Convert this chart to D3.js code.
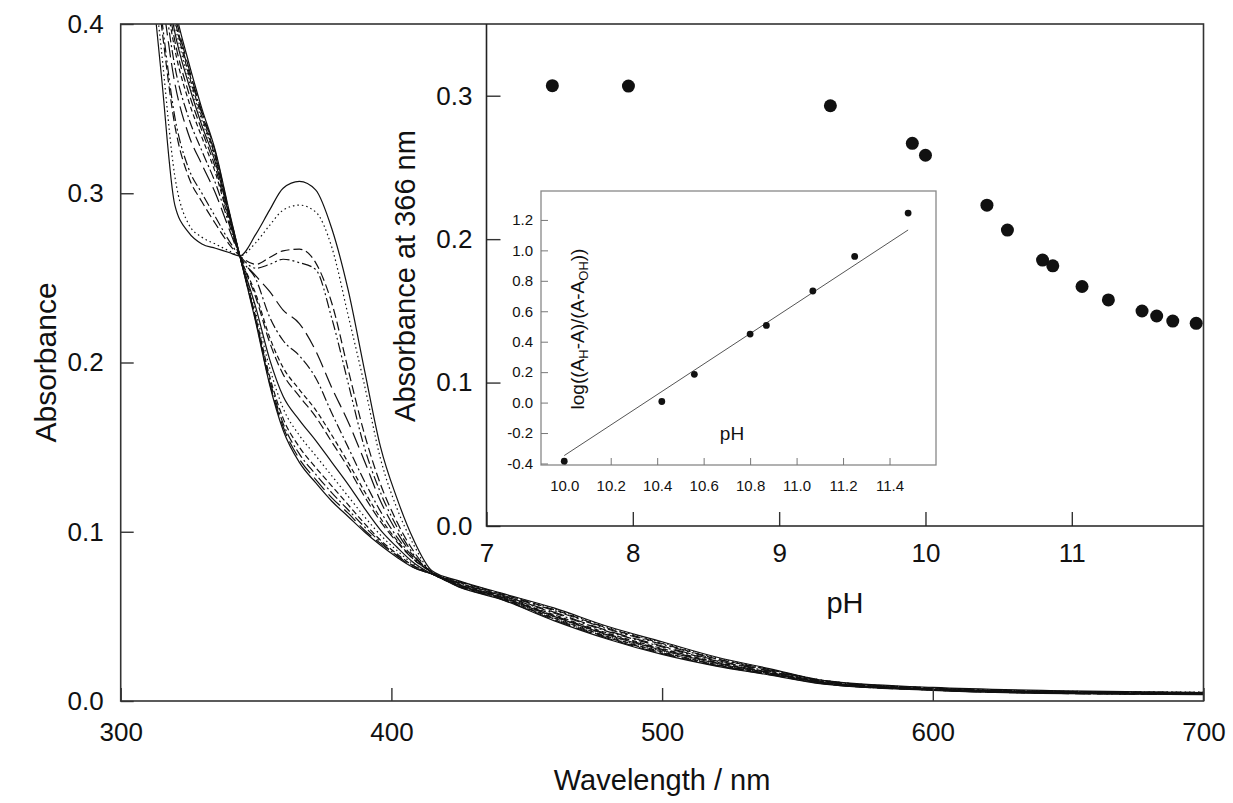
<!DOCTYPE html>
<html><head><meta charset="utf-8">
<script src="https://cdn.jsdelivr.net/npm/d3@7"></script>
<style>body{margin:0;background:#fff}</style>
</head><body><svg id="c" width="1233" height="803"></svg>
<script>
// ---------- DATA ----------
const wavelengths = [310,315,320,325,330,335,340,344,350,355,360,366,372,378,384,390,396,402,408,415,425,440,460,480,500,520,540,560,600,650,700];

const abs_pH7_45 = [.45,.37,.293,.277,.270,.2675,.265,.263,.276,.290,.303,.307,.302,.279,.243,.196,.150,.120,.096,.077,.071,.064,.055,.044,.035,.026,.019,.012,.008,.006,.005];
const abs_pH9_35 = [.46,.385,.31,.282,.274,.270,.266,.263,.271,.281,.290,.293,.289,.268,.228,.187,.143,.114,.093,.076,.0707,.0637,.0545,.0435,.0345,.0255,.0188,.0121,.0077,.0057,.0052];
const abs_pH9_91 = [.47,.40,.34,.31,.295,.282,.270,.263,.258,.262,.266,.267,.259,.235,.196,.158,.128,.106,.089,.076,.0705,.0635,.054,.043,.034,.025,.0185,.012,.0076,.0056,.0051];
const abs_pH10_00 = [.47,.405,.345,.315,.300,.286,.272,.263,.2557,.258,.261,.259,.255,.226,.188,.150,.123,.103,.087,.076,.070,.063,.0535,.0425,.0335,.0248,.0183,.0118,.0075,.0055,.005];
const abs_pH10_42 = [.48,.42,.365,.335,.317,.300,.279,.263,.251,.242,.231,.223,.207,.185,.165,.142,.118,.100,.086,.076,.0697,.0627,.0525,.0415,.0325,.0241,.0178,.0115,.0073,.0053,.0048];
const abs_pH10_56 = [.49,.43,.375,.345,.325,.306,.282,.263,.249,.227,.213,.204,.191,.170,.150,.130,.112,.097,.085,.076,.0695,.0625,.052,.041,.032,.0237,.0175,.0113,.0072,.0052,.0047];
const abs_pH10_80 = [.50,.435,.385,.355,.333,.312,.284,.263,.240,.215,.197,.184,.172,.157,.141,.124,.108,.095,.084,.076,.069,.062,.051,.040,.031,.023,.017,.011,.007,.005,.0045];
const abs_pH10_87 = [.50,.44,.39,.36,.337,.315,.285,.263,.238,.212,.193,.180,.168,.153,.138,.121,.106,.094,.084,.076,.0688,.0618,.0505,.0395,.0305,.0227,.0168,.0109,.0069,.0049,.0044];
const abs_pH11_07 = [.51,.445,.395,.365,.340,.318,.287,.263,.232,.202,.180,.166,.154,.141,.128,.114,.101,.091,.082,.075,.0685,.0615,.050,.039,.030,.0223,.0165,.0107,.0068,.0048,.0043];
const abs_pH11_25 = [.51,.45,.40,.368,.343,.320,.288,.263,.229,.197,.173,.157,.145,.133,.121,.109,.098,.089,.081,.075,.0683,.0613,.0495,.0385,.0295,.022,.0163,.0106,.0067,.0047,.0042];
const abs_pH11_48 = [.52,.45,.403,.371,.345,.321,.288,.263,.226,.192,.167,.150,.138,.127,.116,.105,.095,.087,.080,.075,.068,.061,.049,.038,.029,.0216,.016,.0104,.0066,.0046,.0041];
const abs_pH11_58 = [.52,.455,.405,.373,.347,.322,.289,.263,.225,.190,.164,.146,.134,.123,.113,.103,.094,.086,.080,.075,.0678,.0608,.0485,.0375,.0285,.0213,.0158,.0103,.0065,.0045,.004];
const abs_pH11_69 = [.52,.455,.407,.375,.348,.324,.289,.263,.224,.188,.162,.143,.131,.120,.111,.101,.093,.086,.079,.075,.0675,.0605,.048,.037,.028,.0209,.0155,.0101,.0064,.0044,.0039];
const abs_pH11_85 = [.53,.46,.41,.378,.350,.325,.290,.263,.223,.187,.160,.141,.129,.118,.109,.100,.092,.085,.079,.075,.0673,.0603,.0475,.0365,.0275,.0206,.0153,.010,.0063,.0043,.0038];

const spectra = [abs_pH7_45, abs_pH9_35, abs_pH9_91, abs_pH10_00, abs_pH10_42, abs_pH10_56, abs_pH10_80,
                 abs_pH10_87, abs_pH11_07, abs_pH11_25, abs_pH11_48, abs_pH11_58, abs_pH11_69, abs_pH11_85];

const insetPH   = [7.45, 7.97, 9.35, 9.91, 10.00, 10.42, 10.56, 10.80, 10.87, 11.07, 11.25, 11.48, 11.58, 11.69, 11.85];
const insetA366 = [0.307, 0.3067, 0.293, 0.2668, 0.2585, 0.2237, 0.2063, 0.1854, 0.1814, 0.167, 0.1576, 0.1499, 0.1464, 0.1429, 0.1413];

const logPH    = [10.00, 10.42, 10.56, 10.80, 10.87, 11.07, 11.25, 11.48];
const logRatio = [-0.385, 0.007, 0.186, 0.45, 0.507, 0.733, 0.96, 1.245];
const fitPH    = [10.00, 11.48];
const fitRatio = [-0.348, 1.134];

const mainXTicks  = [300, 400, 500, 600, 700];
const mainYTicks  = [0.0, 0.1, 0.2, 0.3, 0.4];
const insetXTicks = [7, 8, 9, 10, 11];
const insetYTicks = [0.0, 0.1, 0.2, 0.3];
const logXTicks   = [10.0, 10.2, 10.4, 10.6, 10.8, 11.0, 11.2, 11.4];
const logYTicks   = [-0.4, -0.2, 0.0, 0.2, 0.4, 0.6, 0.8, 1.0, 1.2];

// ---------- STYLES ----------
const dashes = [null, "1.5,3", "9,4", "10,3,2,3,2,3", "16,6", "10,3,2,3", "5,3", "9,4",
                null, "1.5,3", "6,3", "10,3,2,3", "16,6", null];
const FONT = "'Liberation Sans', Arial, Helvetica, sans-serif";
const INK = "#111";

const svg = d3.select("#c");
svg.append("rect").attr("width", 1233).attr("height", 803).attr("fill", "#fff");

// ---------- MAIN PLOT ----------
const L = 120.7, R = 1203.5, T = 24, B = 701;
const x = d3.scaleLinear().domain([300, 700]).range([L, R]);
const y = d3.scaleLinear().domain([0, 0.4]).range([B, T]);

svg.append("defs").append("clipPath").attr("id", "plotClip")
  .append("rect").attr("x", L).attr("y", T).attr("width", R - L).attr("height", B - T);

const line = d3.line().x((d, i) => x(wavelengths[i])).y(d => y(d)).curve(d3.curveMonotoneX);
const gSpec = svg.append("g").attr("clip-path", "url(#plotClip)");
spectra.forEach((s, k) => {
  gSpec.append("path").attr("d", line(s)).attr("fill", "none")
    .attr("stroke", INK).attr("stroke-width", 1.2)
    .attr("stroke-dasharray", dashes[k]);
});

function styleAxis(g, fs) {
  g.select(".domain").remove();
  g.selectAll("line").attr("stroke", "#333").attr("stroke-width", 1.4);
  g.selectAll("text").attr("font-family", FONT).attr("font-size", fs).attr("fill", INK);
}

svg.append("g").attr("transform", `translate(0,${B})`)
  .call(d3.axisBottom(x).tickValues(mainXTicks).tickSize(-13).tickPadding(22).tickFormat(d3.format("d")))
  .call(g => styleAxis(g, 26));
svg.append("g").attr("transform", `translate(${L},0)`)
  .call(d3.axisLeft(y).tickValues(mainYTicks).tickSize(-13).tickPadding(17).tickFormat(d => d.toFixed(1)))
  .call(g => styleAxis(g, 26));

svg.append("rect").attr("x", L).attr("y", T).attr("width", R - L).attr("height", B - T)
  .attr("fill", "none").attr("stroke", "#333").attr("stroke-width", 1.6);

svg.append("text").attr("x", (L + R) / 2).attr("y", 790).attr("text-anchor", "middle")
  .attr("font-family", FONT).attr("font-size", 29).attr("fill", INK).text("Wavelength / nm");
svg.append("text").attr("transform", `translate(56,${(T + B) / 2}) rotate(-90)`).attr("text-anchor", "middle")
  .attr("font-family", FONT).attr("font-size", 30).attr("fill", INK).text("Absorbance");

// ---------- INSET (A366 vs pH) ----------
const iL = 486.5, iB = 526;
const ix = d3.scaleLinear().domain([7, 11.9]).range([iL, R]);
const iy = d3.scaleLinear().domain([0, 0.35]).range([iB, T]);

svg.append("g").attr("transform", `translate(0,${iB})`)
  .call(d3.axisBottom(ix).tickValues(insetXTicks).tickSize(-14).tickPadding(18).tickFormat(d3.format("d")))
  .call(g => styleAxis(g, 26));
svg.append("g").attr("transform", `translate(${iL},0)`)
  .call(d3.axisLeft(iy).tickValues(insetYTicks).tickSize(-14).tickPadding(14).tickFormat(d => d.toFixed(1)))
  .call(g => styleAxis(g, 26));
svg.append("path").attr("d", `M${iL},${T}V${iB}H${R}`).attr("fill", "none").attr("stroke", "#222").attr("stroke-width", 1.6);

svg.append("g").selectAll("circle").data(insetPH).join("circle")
  .attr("cx", d => ix(d)).attr("cy", (d, i) => iy(insetA366[i])).attr("r", 6.5).attr("fill", INK);

svg.append("text").attr("x", (iL + R) / 2).attr("y", 613).attr("text-anchor", "middle")
  .attr("font-family", FONT).attr("font-size", 29).attr("fill", INK).text("pH");
svg.append("text").attr("transform", `translate(415,276) rotate(-90)`).attr("text-anchor", "middle")
  .attr("font-family", FONT).attr("font-size", 29).attr("fill", INK).text("Absorbance at 366 nm");

// ---------- LOG INSET ----------
const lL = 541, lR = 936, lT = 191, lB = 465;
const lx = d3.scaleLinear().domain([9.9, 11.6]).range([lL, lR]);
const ly = d3.scaleLinear().domain([-0.41, 1.39]).range([lB, lT]);

svg.append("rect").attr("x", lL).attr("y", lT).attr("width", lR - lL).attr("height", lB - lT)
  .attr("fill", "#fff").attr("stroke", "#888").attr("stroke-width", 1.3);

function styleLogAxis(g) {
  g.select(".domain").remove();
  g.selectAll("line").attr("stroke", "#777").attr("stroke-width", 1);
  g.selectAll("text").attr("font-family", FONT).attr("font-size", 15).attr("fill", INK);
}
svg.append("g").attr("transform", `translate(0,${lB})`)
  .call(d3.axisBottom(lx).tickValues(logXTicks).tickSize(-7).tickPadding(15).tickFormat(d => d.toFixed(1)))
  .call(styleLogAxis);
svg.append("g").attr("transform", `translate(${lL},0)`)
  .call(d3.axisLeft(ly).tickValues(logYTicks).tickSize(-7).tickPadding(8).tickFormat(d => d.toFixed(1)))
  .call(styleLogAxis);

svg.append("path").attr("d", d3.line()(fitPH.map((p, i) => [lx(p), ly(fitRatio[i])])))
  .attr("fill", "none").attr("stroke", "#555").attr("stroke-width", 1);
svg.append("g").selectAll("circle").data(logPH).join("circle")
  .attr("cx", d => lx(d)).attr("cy", (d, i) => ly(logRatio[i])).attr("r", 3.4).attr("fill", INK);

svg.append("text").attr("x", 732).attr("y", 440).attr("text-anchor", "middle")
  .attr("font-family", FONT).attr("font-size", 19).attr("fill", INK).text("pH");

const yl = svg.append("text").attr("transform", `translate(584,329) rotate(-90)`).attr("text-anchor", "middle")
  .attr("font-family", FONT).attr("font-size", 19).attr("fill", INK);
yl.append("tspan").text("log((A");
yl.append("tspan").attr("font-size", 13).attr("dy", 4).text("H");
yl.append("tspan").attr("dy", -4).text("-A)/(A-A");
yl.append("tspan").attr("font-size", 13).attr("dy", 4).text("OH");
yl.append("tspan").attr("dy", -4).text("))");
</script>
</body></html>
